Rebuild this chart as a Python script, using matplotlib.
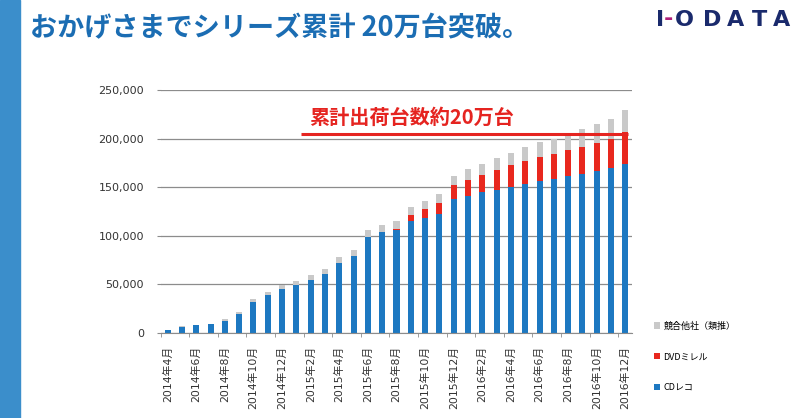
import matplotlib
matplotlib.use('Agg')
import matplotlib.pyplot as plt
from matplotlib.patches import Rectangle
from matplotlib.ticker import FuncFormatter
import numpy as np

months = ['2014年4月', '2014年5月', '2014年6月', '2014年7月', '2014年8月', '2014年9月',
          '2014年10月', '2014年11月', '2014年12月', '2015年1月', '2015年2月', '2015年3月',
          '2015年4月', '2015年5月', '2015年6月', '2015年7月', '2015年8月', '2015年9月',
          '2015年10月', '2015年11月', '2015年12月', '2016年1月', '2016年2月', '2016年3月',
          '2016年4月', '2016年5月', '2016年6月', '2016年7月', '2016年8月', '2016年9月',
          '2016年10月', '2016年11月', '2016年12月']

# units sold per series (stacked)
cd_reco = [3000, 6500, 8000, 9000, 12600, 19400, 32000, 39300, 45500, 49100, 54500,
           60700, 71800, 79000, 99000, 103500, 105900, 115000, 118300, 122200, 137900,
           141300, 144600, 147500, 150600, 153400, 156500, 158900, 161700, 163700,
           166800, 169600, 174100]
dvd_mireru = [0, 0, 0, 0, 0, 0, 0, 0, 0, 0, 0, 0, 0, 0, 0, 0, 1500, 6600, 8800, 11400,
              14800, 16600, 18100, 20700, 22100, 23500, 24500, 24800, 26100, 27900,
              28700, 29600, 32700]
others = [500, 600, 600, 600, 1600, 2100, 2600, 2500, 3600, 4800, 4900, 5600, 5900,
          6200, 6700, 7300, 7600, 8300, 9000, 9300, 9300, 10700, 11400, 12100, 12700,
          14000, 15100, 16200, 15500, 18600, 19900, 21400, 23100]

series_names = ['CDレコ', 'DVDミレル', '競合他社（類推）']
title = 'おかげさまでシリーズ累計 20万台突破。'
note = '累計出荷台数約20万台'
note_level = 205000

plt.rcParams['font.family'] = ['DejaVu Sans', 'Noto Sans CJK JP']
cjk = ['Noto Sans CJK JP', 'DejaVu Sans']

fig = plt.figure(figsize=(8, 4.18), dpi=100)
fig.patch.set_facecolor('white')

# blue strip on the left edge of the slide
fig.add_artist(Rectangle((0, 0), 20 / 800, 1, transform=fig.transFigure,
                         color='#3b8ecb', zorder=0))

ax = fig.add_axes([160.5 / 800, 85 / 418, 472 / 800, 243 / 418])

x = np.arange(len(months))
cd = np.array(cd_reco)
dvd = np.array(dvd_mireru)
oth = np.array(others)
w = 0.42
b1 = ax.bar(x, cd, w, color='#1d78c1', label=series_names[0])
b2 = ax.bar(x, dvd, w, bottom=cd, color='#e8281e', label=series_names[1])
b3 = ax.bar(x, oth, w, bottom=cd + dvd, color='#c9c9c9', label=series_names[2])

ax.set_xlim(-0.5, len(months) - 0.5)
ax.set_ylim(0, 250000)
ax.set_yticks(np.arange(0, 250001, 50000))
ax.yaxis.set_major_formatter(FuncFormatter(lambda v, p: '{:,.0f}'.format(v)))
ax.yaxis.grid(True, color='#8c8c8c', linewidth=0.9)
ax.set_axisbelow(True)

ax.set_xticks(x[::2])
ax.set_xticklabels(months[::2], rotation=90, fontsize=7.8, color='#333333')
ax.set_xticks(np.arange(-0.5, len(months), 2), minor=True)
ax.tick_params(axis='x', which='major', length=0, pad=9)
ax.tick_params(axis='x', which='minor', length=3, color='#8c8c8c')
ax.tick_params(axis='y', length=3, color='#8c8c8c', labelsize=8, labelcolor='#333333', pad=9)

for s in ['top', 'right', 'left']:
    ax.spines[s].set_visible(False)
ax.spines['bottom'].set_color('#8c8c8c')

# red annotation
ax.plot([9.3, 32.2], [note_level, note_level], color='#e52420', lw=2.2,
        solid_capstyle='butt')
ax.text(17.05, 221600, note, ha='center', va='center', fontsize=14.5,
        color='#e52420', weight='bold', family=cjk)

ax.legend(handles=[b3, b2, b1], labels=series_names[::-1], loc='upper left',
          bbox_to_anchor=(650 / 800, 1 - 318 / 418), bbox_transform=fig.transFigure,
          frameon=False, prop={'family': cjk, 'size': 6.5}, handlelength=0.7,
          handleheight=0.7, handletextpad=0.4, labelspacing=2.4, borderaxespad=0)

fig.text(30 / 800, 1 - 28 / 418, title, ha='left', va='center', fontsize=19.5,
         color='#1b6db3', weight='bold', family=cjk)

# logo
logo = [('I', 660, '#1a2a6c'), ('-', 668, '#b0207a'), ('O', 684, '#1a2a6c'),
        ('D', 712, '#1a2a6c'), ('A', 736, '#1a2a6c'), ('T', 759, '#1a2a6c'),
        ('A', 782, '#1a2a6c')]
for ch, px, col in logo:
    fig.text(px / 800, 1 - 19.5 / 418, ch, ha='center', va='center', fontsize=16,
             weight='bold', color=col, family='DejaVu Sans')

fig.savefig('out.png', dpi=100)
